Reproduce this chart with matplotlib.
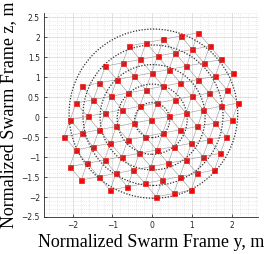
import numpy as np
import matplotlib
matplotlib.use("Agg")
import matplotlib.pyplot as plt
from matplotlib.collections import LineCollection
from matplotlib.patches import Circle
from matplotlib.ticker import MultipleLocator

# ---- data (normalized swarm frame y, z) ----
pos_y = [
    -0.591, -0.154, 0.283, 0.721, 1.158,
    -1.178, -0.741, -0.303, 0.134, 0.571, 1.009, 1.446,
    -1.765, -1.327, -0.890, -0.453, -0.015, 0.422, 0.859, 1.297, 1.734,
    -1.913, -1.476, -1.038, -0.601, -0.164, 0.274, 0.711, 1.148, 1.586, 2.023,
    -2.062, -1.625, -1.188, -0.750, -0.313, 0.124, 0.562, 0.999, 1.436, 1.874,
    -2.212, -1.774, -1.337, -0.900, -0.462, -0.025, 0.412, 0.850, 1.287, 1.724, 2.162,
    -1.924, -1.486, -1.049, -0.612, -0.174, 0.263, 0.700, 1.138, 1.575, 2.012,
    -2.073, -1.636, -1.198, -0.761, -0.324, 0.114, 0.551, 0.988, 1.426, 1.863,
    -1.784, -1.347, -0.909, -0.472, -0.035, 0.403, 0.840, 1.277, 1.715,
    -1.059, -0.621, -0.184, 0.253, 0.691, 1.128, 1.565,
    0.104, 0.541, 0.979,
]
pos_z = [
    1.784, 1.868, 1.952, 2.036, 2.120,
    1.280, 1.364, 1.448, 1.532, 1.616, 1.700, 1.784,
    0.776, 0.860, 0.944, 1.028, 1.112, 1.196, 1.280, 1.364, 1.448,
    0.357, 0.441, 0.525, 0.609, 0.693, 0.777, 0.861, 0.945, 1.029, 1.113,
    -0.063, 0.021, 0.105, 0.189, 0.273, 0.357, 0.441, 0.525, 0.609, 0.693,
    -0.483, -0.399, -0.315, -0.231, -0.147, -0.063, 0.021, 0.105, 0.189, 0.273, 0.357,
    -0.819, -0.735, -0.651, -0.567, -0.483, -0.399, -0.315, -0.231, -0.147, -0.063,
    -1.239, -1.155, -1.071, -0.987, -0.903, -0.819, -0.735, -0.651, -0.567, -0.483,
    -1.574, -1.490, -1.406, -1.322, -1.238, -1.154, -1.070, -0.986, -0.902,
    -1.826, -1.742, -1.658, -1.574, -1.490, -1.406, -1.322,
    -1.994, -1.910, -1.826,
]
x_ticks = [-2, -1, 0, 1, 2]
y_ticks = [-2.5, -2, -1.5, -1, -0.5, 0, 0.5, 1, 1.5, 2, 2.5]
x_label = "Normalized Swarm Frame y, m"
y_label = "Normalized Swarm Frame z, m"

# dotted guide circles
ring_center_y = [0.00, 0.00, 0.01, 0.02, 0.03]
ring_center_z = [-0.07, -0.05, 0.00, 0.05, 0.09]
ring_radius = [0.44, 0.88, 1.32, 1.76, 2.12]

neighbor_dist = 0.55      # link range between agents

# ---- figure ----
W, H = 267, 254
fig = plt.figure(figsize=(W / 100, H / 100), dpi=100)
ax = fig.add_axes([44 / W, (H - 217) / H, (258 - 44) / W, (217 - 12.7) / H])
ax.set_xlim(-2.72, 2.66)
ax.set_ylim(-2.50, 2.62)

# grid
ax.xaxis.set_major_locator(plt.FixedLocator(x_ticks))
ax.yaxis.set_major_locator(plt.FixedLocator(y_ticks))
ax.xaxis.set_minor_locator(MultipleLocator(0.2))
ax.yaxis.set_minor_locator(MultipleLocator(0.1))
ax.grid(True, which="major", color="#dcdcdc", lw=0.6, zorder=0)
ax.grid(True, which="minor", color="#d4d4d4", lw=0.5, ls=(0, (1, 2)), zorder=0)
ax.set_axisbelow(True)

# guide circles
for cy_, cz_, rr in zip(ring_center_y, ring_center_z, ring_radius):
    ax.add_patch(Circle((cy_, cz_), rr, fill=False, ec="#303030", lw=0.9,
                        ls=(0, (1, 1.3)), zorder=1))

# markers
ax.plot(pos_y, pos_z, ls="none", marker="s", ms=3.6, mfc="#ff0000",
        mec="#e80000", mew=0.4, zorder=2)

# neighbour links
py = np.asarray(pos_y)
pz = np.asarray(pos_z)
segs = []
for i in range(len(py)):
    for j in range(i + 1, len(py)):
        if np.hypot(py[i] - py[j], pz[i] - pz[j]) < neighbor_dist:
            segs.append([(py[i], pz[i]), (py[j], pz[j])])
ax.add_collection(LineCollection(segs, colors="#6e6e6e", linewidths=0.4,
                                 alpha=0.7, zorder=3))

# spines / ticks
for s in ["top", "right"]:
    ax.spines[s].set_visible(False)
for s in ["left", "bottom"]:
    ax.spines[s].set_color("#262626")
    ax.spines[s].set_linewidth(0.6)
ax.tick_params(which="both", direction="in", colors="#262626",
               labelsize=5.5, length=2, width=0.5, pad=3)
ax.tick_params(which="minor", length=0)
ax.set_xticklabels([f"{t:g}".replace("-", "\u2212") for t in x_ticks])
ax.set_yticklabels([f"{t:g}".replace("-", "\u2212") for t in y_ticks])

ax.set_xlabel(x_label, family="Liberation Serif", fontsize=13, labelpad=3)
ax.set_ylabel(y_label, family="Liberation Serif", fontsize=13, labelpad=3)

fig.savefig("out.png", dpi=100)
